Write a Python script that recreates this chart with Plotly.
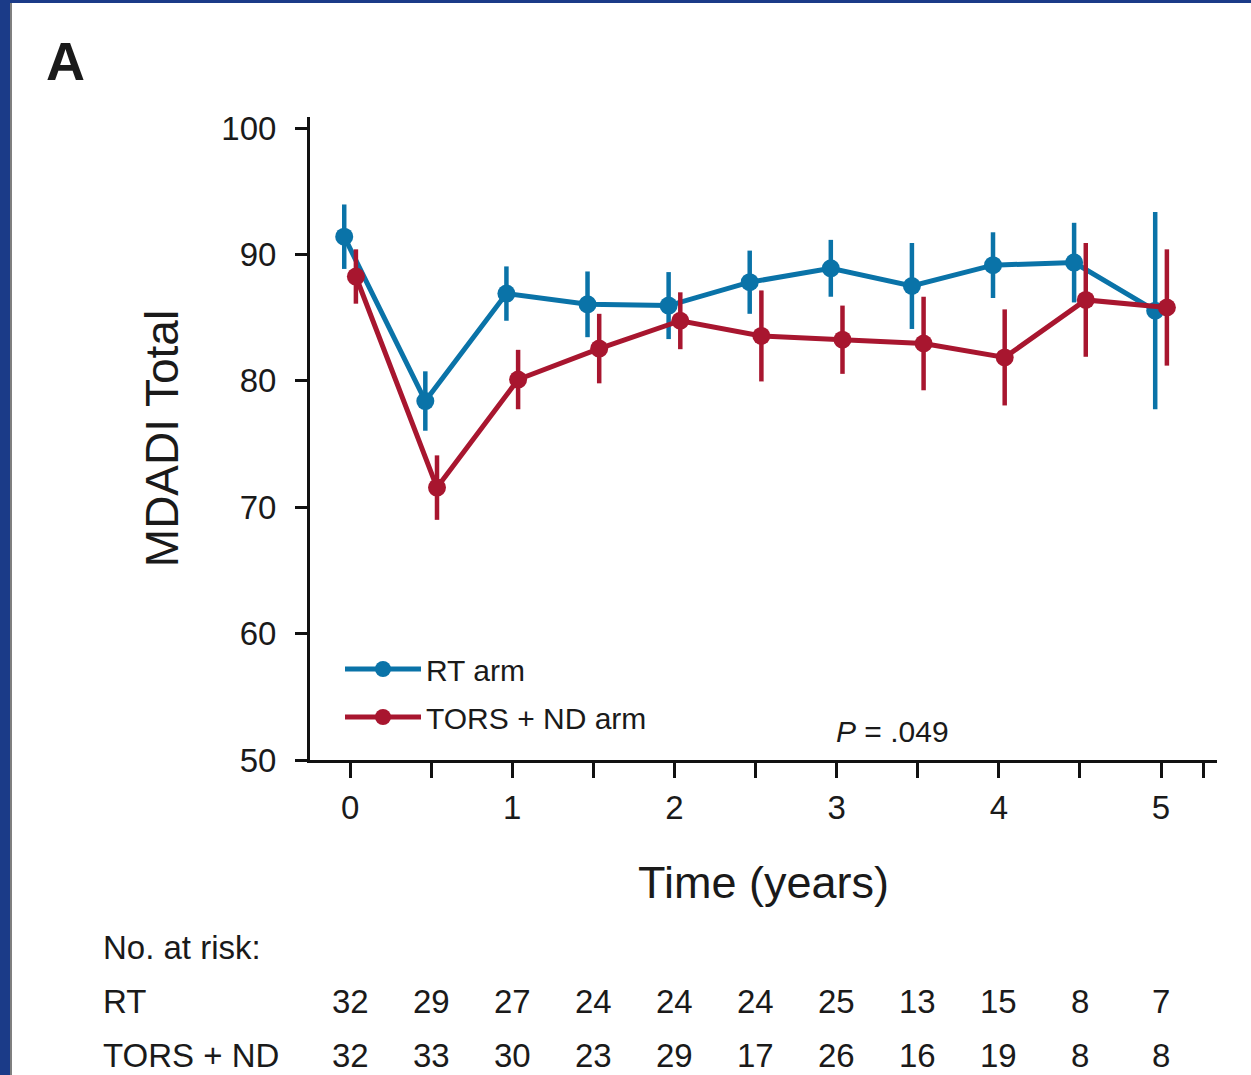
import plotly.graph_objects as go

# MDADI total score over time by treatment arm (mean with 95% CI)
time_years = [0, 0.5, 1, 1.5, 2, 2.5, 3, 3.5, 4, 4.5, 5]

rt_mean = [91.4, 78.4, 86.9, 86.05, 85.95, 87.8, 88.9, 87.5, 89.15, 89.35, 85.55]
rt_ci = [2.55, 2.35, 2.15, 2.6, 2.65, 2.5, 2.25, 3.4, 2.6, 3.15, 7.8]

tors_mean = [88.25, 71.55, 80.1, 82.55, 84.75, 83.55, 83.25, 82.95, 81.85, 86.4, 85.8]
tors_ci = [2.15, 2.55, 2.35, 2.75, 2.25, 3.6, 2.7, 3.7, 3.8, 4.5, 4.6]

rt_at_risk = [32, 29, 27, 24, 24, 24, 25, 13, 15, 8, 7]
tors_at_risk = [32, 33, 30, 23, 29, 17, 26, 16, 19, 8, 8]

x_tick_vals = [0, 0.5, 1, 1.5, 2, 2.5, 3, 3.5, 4, 4.5, 5, 5.26]
x_tick_text = ["0", "", "1", "", "2", "", "3", "", "4", "", "5", ""]
y_tick_vals = [50, 60, 70, 80, 90, 100]

BLUE = "#0a73a8"
RED = "#a8162f"
NAVY = "#1b3b88"
FONT = "Liberation Sans, Arial, Helvetica, sans-serif"

W, H = 1251, 1075
M_L, M_R, M_T, M_B = 310, 34, 117, 315
PLOT_W = W - M_L - M_R
PLOT_H = H - M_T - M_B


def paper_x(px):
    return (px - M_L) / PLOT_W


def paper_y(py):
    return (H - M_B - py) / PLOT_H


DODGE = 0.036  # horizontal offset so the two arms don't overlap

fig = go.Figure()

for name, means, ci, color, shift, group in [
    ("RT arm", rt_mean, rt_ci, BLUE, -DODGE, "rt"),
    ("TORS + ND arm", tors_mean, tors_ci, RED, DODGE, "tors"),
]:
    fig.add_trace(go.Scatter(
        x=[t + shift for t in time_years],
        y=means,
        name=name,
        legendgroup=group,
        mode="lines+markers",
        line=dict(color=color, width=5),
        marker=dict(color=color, size=18),
        error_y=dict(type="data", array=ci, symmetric=True,
                     color=color, thickness=4.5, width=0),
        cliponaxis=False,
    ))

annotations = [
    dict(text="<b>A</b>", x=paper_x(44), y=paper_y(61), xref="paper", yref="paper",
         xanchor="left", yanchor="middle", showarrow=False,
         font=dict(family=FONT, size=54, color="#1a1a1a")),
    dict(text="<i>P</i> = .049", x=paper_x(892), y=paper_y(731), xref="paper", yref="paper",
         xanchor="center", yanchor="middle", showarrow=False,
         font=dict(family=FONT, size=30, color="#1a1a1a")),
    dict(text="No. at risk:", x=paper_x(101), y=paper_y(947), xref="paper", yref="paper",
         xanchor="left", yanchor="middle", showarrow=False,
         font=dict(family=FONT, size=33, color="#1a1a1a")),
    dict(text="RT", x=paper_x(101), y=paper_y(1001), xref="paper", yref="paper",
         xanchor="left", yanchor="middle", showarrow=False,
         font=dict(family=FONT, size=33, color="#1a1a1a")),
    dict(text="TORS + ND", x=paper_x(101), y=paper_y(1055), xref="paper", yref="paper",
         xanchor="left", yanchor="middle", showarrow=False,
         font=dict(family=FONT, size=33, color="#1a1a1a")),
]

for row_py, counts in [(1001, rt_at_risk), (1055, tors_at_risk)]:
    for t, n in zip(time_years, counts):
        annotations.append(dict(
            text=str(n), x=t, y=paper_y(row_py), xref="x", yref="paper",
            xanchor="center", yanchor="middle", showarrow=False,
            font=dict(family=FONT, size=33, color="#1a1a1a")))

shapes = [
    # page frame: navy band on the left and top
    dict(type="rect", xref="paper", yref="paper",
         x0=paper_x(0), x1=paper_x(10), y0=paper_y(H), y1=paper_y(0),
         fillcolor=NAVY, line=dict(width=0), layer="below"),
    dict(type="rect", xref="paper", yref="paper",
         x0=paper_x(0), x1=paper_x(W), y0=paper_y(3), y1=paper_y(0),
         fillcolor=NAVY, line=dict(width=0), layer="below"),
    dict(type="line", xref="paper", yref="paper",
         x0=paper_x(11), x1=paper_x(11), y0=paper_y(H), y1=paper_y(3),
         line=dict(color="#555555", width=1.5), layer="below"),
]

fig.update_layout(
    width=W, height=H,
    margin=dict(l=M_L, r=M_R, t=M_T, b=M_B, autoexpand=False),
    paper_bgcolor="white",
    plot_bgcolor="white",
    font=dict(family=FONT, color="#1a1a1a"),
    showlegend=True,
    legend=dict(
        x=paper_x(340), y=paper_y(643), xanchor="left", yanchor="top",
        bgcolor="rgba(0,0,0,0)", borderwidth=0,
        font=dict(family=FONT, size=30, color="#1a1a1a"),
        itemwidth=76, tracegroupgap=6,
    ),
    xaxis=dict(
        range=[-0.247, 5.345],
        tickmode="array", tickvals=x_tick_vals, ticktext=x_tick_text,
        ticks="outside", ticklen=15, tickwidth=2.5, tickcolor="#111111",
        showline=True, linecolor="#111111", linewidth=3,
        showgrid=False, zeroline=False,
        tickfont=dict(family=FONT, size=33, color="#1a1a1a"),
        ticklabelstandoff=1,
        title=dict(text="Time (years)", font=dict(family=FONT, size=45, color="#1a1a1a"),
                   standoff=42),
    ),
    yaxis=dict(
        range=[50, 100.87],
        tickmode="array", tickvals=y_tick_vals,
        ticks="outside", ticklen=12, tickwidth=2.5, tickcolor="#111111",
        showline=True, linecolor="#111111", linewidth=3,
        showgrid=False, zeroline=False,
        tickfont=dict(family=FONT, size=33, color="#1a1a1a"),
        ticklabelstandoff=12,
        title=dict(text="MDADI Total", font=dict(family=FONT, size=46, color="#1a1a1a"),
                   standoff=29),
    ),
    annotations=annotations,
    shapes=shapes,
)

fig.write_html("out.html", config=dict(displayModeBar=False))
